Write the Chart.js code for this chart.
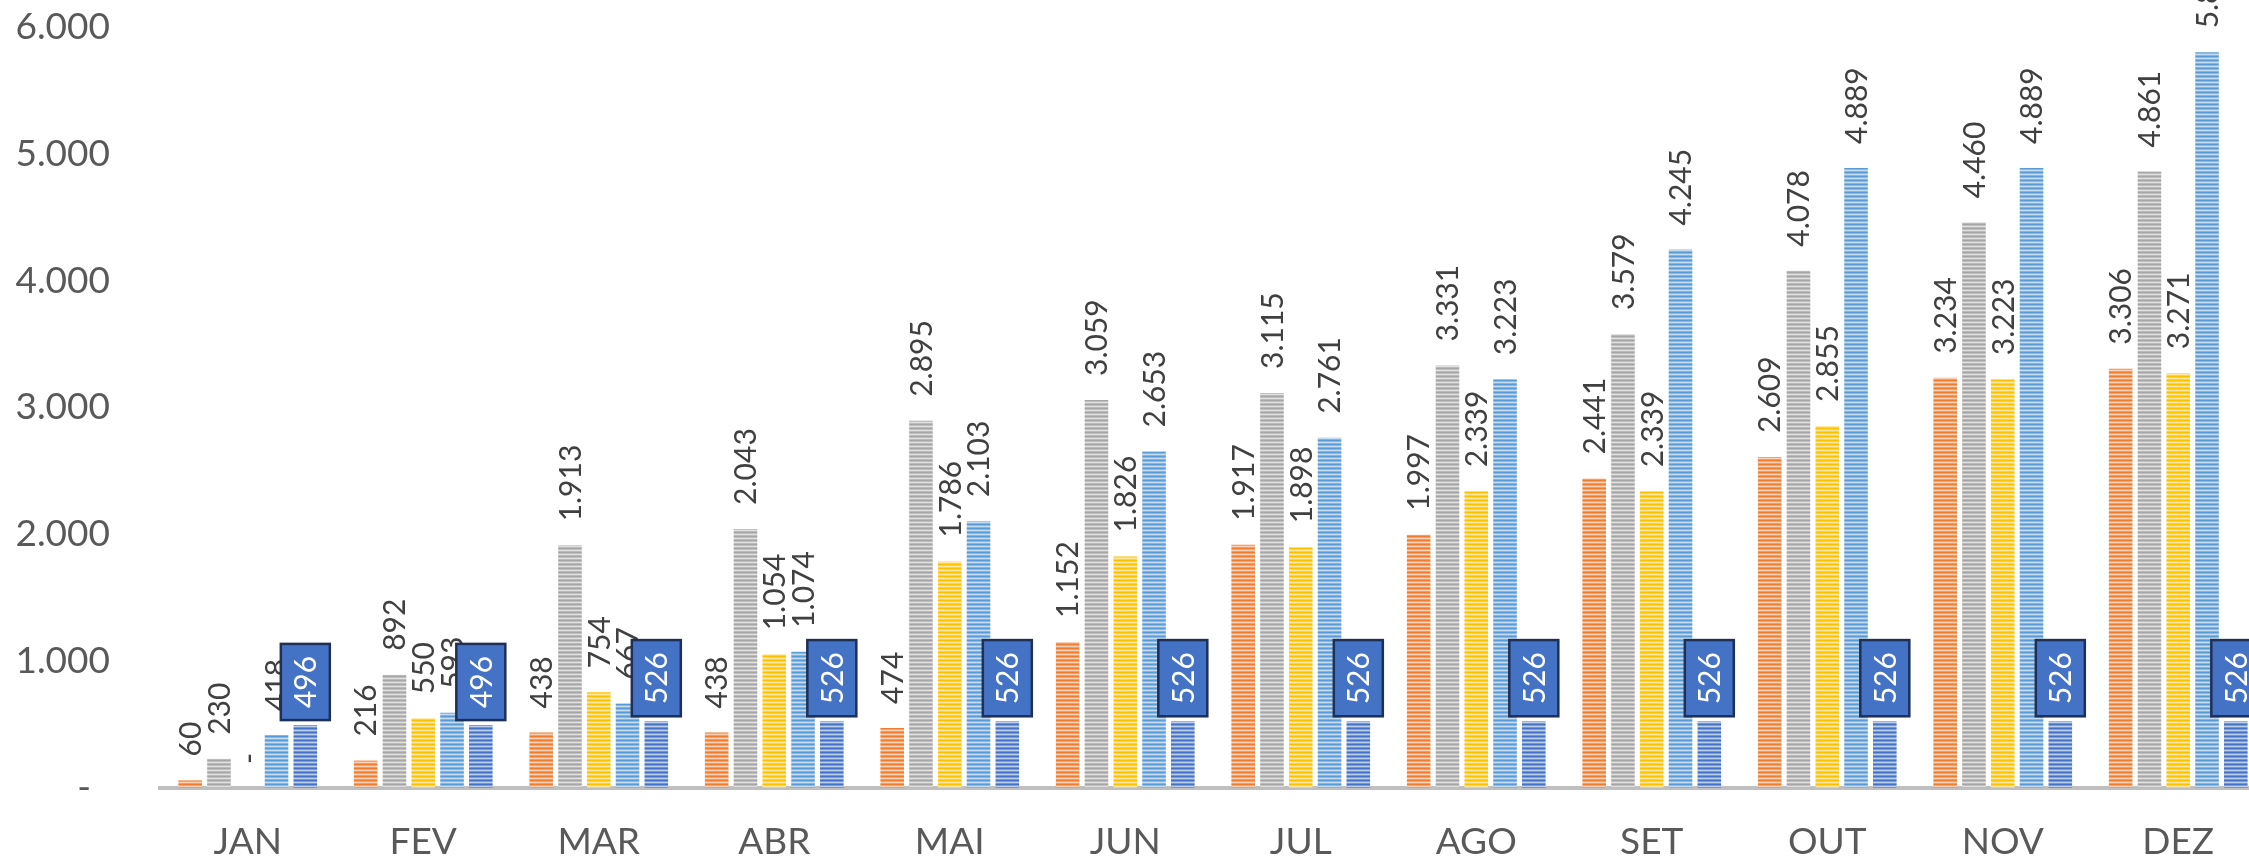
<!DOCTYPE html>
<html>
<head>
<meta charset="utf-8">
<script src="https://cdn.jsdelivr.net/npm/chart.js@4.4.1/dist/chart.umd.min.js"></script>
<style>
    html, body { margin: 0; padding: 0; background: #fff; overflow: hidden; }
    #wrap { width: 2266px; height: 859px; }
</style>
</head>
<body>
<div id="wrap"><canvas id="chart" width="2266" height="859"></canvas></div>
<script>
const MONTHS = ['JAN', 'FEV', 'MAR', 'ABR', 'MAI', 'JUN', 'JUL', 'AGO', 'SET', 'OUT', 'NOV', 'DEZ'];

const SERIE_LARANJA = [60, 216, 438, 438, 474, 1152, 1917, 1997, 2441, 2609, 3234, 3306];
const SERIE_CINZA = [230, 892, 1913, 2043, 2895, 3059, 3115, 3331, 3579, 4078, 4460, 4861];
const SERIE_AMARELA = [0, 550, 754, 1054, 1786, 1826, 1898, 2339, 2339, 2855, 3223, 3271];
const SERIE_AZUL_CLARO = [418, 593, 667, 1074, 2103, 2653, 2761, 3223, 4245, 4889, 4889, 5800];
const SERIE_AZUL = [496, 496, 526, 526, 526, 526, 526, 526, 526, 526, 526, 526];

const Y_TICKS = [0, 1000, 2000, 3000, 4000, 5000, 6000];

const FONT = 'Lato, "Open Sans", sans-serif';

const ctx = document.getElementById('chart').getContext('2d');

// listras horizontais tipo padrão do Excel
function stripes(color) {
    const c = document.createElement('canvas');
    c.width = 4; c.height = 4;
    const x = c.getContext('2d');
    x.fillStyle = color; x.fillRect(0, 0, 4, 4);
    x.fillStyle = 'rgba(255,255,255,0.3)'; x.fillRect(0, 1, 4, 1);
    x.fillStyle = 'rgba(255,255,255,0.65)'; x.fillRect(0, 2, 4, 1);
    x.fillStyle = 'rgba(255,255,255,0.25)'; x.fillRect(0, 3, 4, 1);
    return ctx.createPattern(c, 'repeat');
}

function fmt(v) {
    if (v === 0) return '-';
    return String(v).replace(/\B(?=(\d{3})+(?!\d))/g, '.');
}

const labelPlugin = {
    id: 'rotLabels',
    afterDatasetsDraw(chart) {
        const c = chart.ctx;
        const fs = 30;
        c.save();
        c.font = `${fs}px ${FONT}`;
        chart.data.datasets.forEach((ds, di) => {
            const meta = chart.getDatasetMeta(di);
            meta.data.forEach((bar, i) => {
                const txt = fmt(ds.data[i]);
                const tw = c.measureText(txt).width;
                const capH = fs * 0.72;
                if (di === 4) {
                    const bw = 49;
                    const bh = tw + 24;
                    const bottom = bar.y - 5;
                    c.fillStyle = '#4472C4';
                    c.fillRect(bar.x - bw / 2, bottom - bh, bw, bh);
                    c.lineWidth = 2.5;
                    c.strokeStyle = '#1F3057';
                    c.strokeRect(bar.x - bw / 2, bottom - bh, bw, bh);
                    c.save();
                    c.translate(bar.x, bottom - bh / 2);
                    c.rotate(-Math.PI / 2);
                    c.fillStyle = '#FFFFFF';
                    c.textAlign = 'center';
                    c.textBaseline = 'alphabetic';
                    c.fillText(txt, 0, capH / 2);
                    c.restore();
                } else {
                    c.save();
                    c.translate(bar.x, bar.y - 24);
                    c.rotate(-Math.PI / 2);
                    c.fillStyle = '#404040';
                    c.textAlign = 'left';
                    c.textBaseline = 'alphabetic';
                    c.fillText(txt, 0, capH / 2);
                    c.restore();
                }
            });
        });
        c.restore();
    }
};

const mk = (data, color) => ({
    data: data,
    backgroundColor: stripes(color),
    borderWidth: 0,
    barPercentage: 0.82,
    categoryPercentage: 0.82
});

new Chart(ctx, {
    type: 'bar',
    data: {
        labels: MONTHS,
        datasets: [
            mk(SERIE_LARANJA, '#ED7D31'),
            mk(SERIE_CINZA, '#A5A5A5'),
            mk(SERIE_AMARELA, '#FFC000'),
            mk(SERIE_AZUL_CLARO, '#5B9BD5'),
            mk(SERIE_AZUL, '#4472C4')
        ]
    },
    options: {
        responsive: false,
        animation: false,
        layout: { padding: 0 },
        plugins: { legend: { display: false }, tooltip: { enabled: false } },
        scales: {
            x: {
                grid: { display: false, drawTicks: false },
                border: { display: true, color: '#BFBFBF', width: 4 },
                ticks: { color: '#595959', font: { family: FONT, size: 37 }, padding: 32 },
                afterFit: (s) => { s.height = 71; s.paddingLeft = 0; s.paddingRight = 0; }
            },
            y: {
                min: 0, max: 6000,
                afterBuildTicks: (s) => { s.ticks = Y_TICKS.map(v => ({ value: v })); },
                grid: { display: false, drawTicks: false },
                border: { display: false },
                ticks: {
                    color: '#595959',
                    font: { family: FONT, size: 37 },
                    padding: 50,
                    callback: (v) => v === 0 ? '-  ' : fmt(v)
                },
                afterFit: (s) => { s.width = 160; s.paddingTop = 27; s.paddingBottom = 0; }
            }
        }
    },
    plugins: [labelPlugin]
});
</script>
</body>
</html>
